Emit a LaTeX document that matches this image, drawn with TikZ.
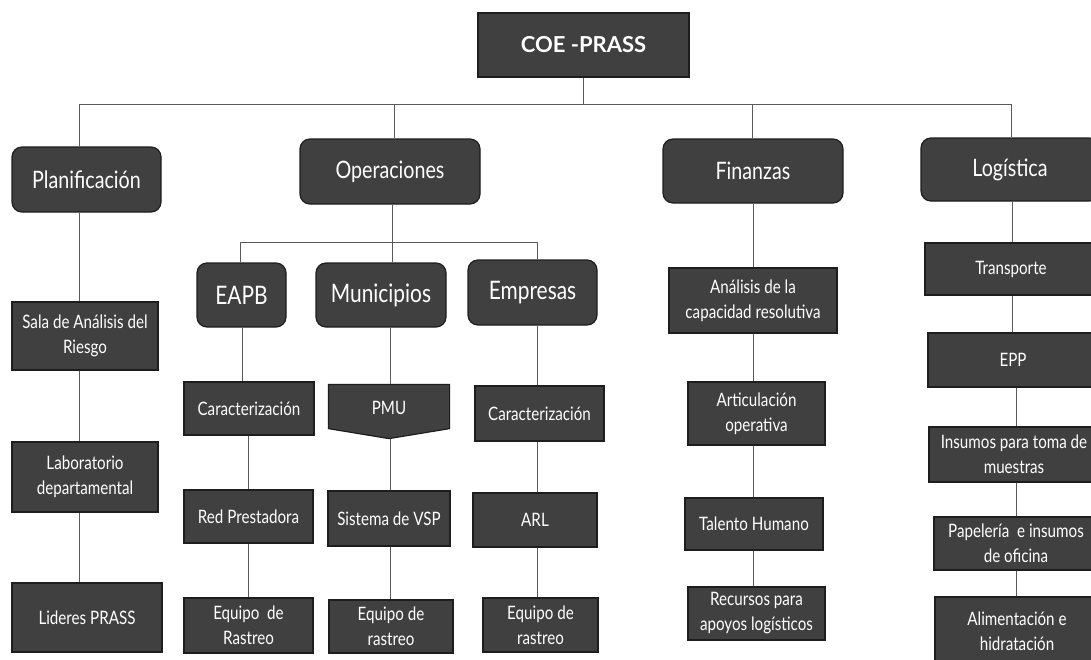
\documentclass[tikz,border=0pt]{standalone}
\usepackage{fontspec}
\setmainfont{Lato}[FakeStretch=0.82]
\newfontfamily\coefont{Lato}
\usetikzlibrary{calc}
\definecolor{boxfill}{RGB}{64,64,64}
\definecolor{boxline}{RGB}{30,30,30}
\definecolor{conncol}{RGB}{90,90,90}
\begin{document}
\begin{tikzpicture}[x=1pt,y=-1pt,
  box/.style={draw=boxline, fill=boxfill, line width=1.2pt, text=white, inner sep=2pt, align=center},
  grp/.style={box, rounded corners=10pt, font=\fontsize{24}{28}\selectfont},
  subgrp/.style={box, rounded corners=10pt, font=\fontsize{25.5}{29}\selectfont},
  leaf/.style={box, font=\fontsize{18.5}{25}\selectfont},
  link/.style={draw=conncol, line width=1pt}]
\useasboundingbox (0,0) rectangle (1091,659);
\clip (0,0) rectangle (1091,659);
\fill[white] (0,0) rectangle (1091,659);

% top
\node[box, minimum width=211pt, minimum height=64pt, font=\coefont\bfseries\fontsize{22}{26}\selectfont] (coe) at (583.5,45) {COE -PRASS};

% groups
\node[grp, minimum width=149pt, minimum height=65pt] (plan) at (86.5,179.5) {Planificación};
\node[grp, minimum width=180pt, minimum height=65pt] (oper) at (390,171.5) {Operaciones};
\node[grp, minimum width=180pt, minimum height=64pt] (fin) at (753,171) {Finanzas};
\node[grp, minimum width=178pt, minimum height=63pt] (log) at (1010,169.5) {Logística};

% planificacion column
\node[leaf, minimum width=146pt, minimum height=68pt] (sala) at (85,336) {Sala de Análisis del\\Riesgo};
\node[leaf, minimum width=146pt, minimum height=70pt] (lab) at (85,477) {Laboratorio\\departamental};
\node[leaf, minimum width=150pt, minimum height=69pt] (lid) at (87,617.5) {Lideres PRASS};

% operaciones sub groups
\node[subgrp, minimum width=89pt, minimum height=64pt] (eapb) at (241.5,295) {EAPB};
\node[subgrp, minimum width=130pt, minimum height=64pt] (mun) at (381,295) {Municipios};
\node[subgrp, minimum width=129pt, minimum height=65pt] (emp) at (532.5,292.5) {Empresas};

% EAPB column
\node[leaf, minimum width=130pt, minimum height=53pt] (car1) at (249,408.5) {Caracterización};
\node[leaf, minimum width=129pt, minimum height=53pt] (red) at (248.5,516.5) {Red Prestadora};
\node[leaf, minimum width=129pt, minimum height=55pt] (eq1) at (248.5,625.5) {Equipo \ de\\Rastreo};

% Municipios column
\node[leaf, draw=none, fill=none, minimum width=120pt, minimum height=43pt] (pmu) at (389,406.5) {};
\coordinate (pmutip) at ($(pmu.south)+(0,10)$);
\filldraw[draw=boxline, fill=boxfill, line width=1.2pt] (pmu.north west) -- (pmu.north east) -- (pmu.south east) -- (pmutip) -- (pmu.south west) -- cycle;
\node[text=white, font=\fontsize{18.5}{25}\selectfont] (pmutext) at ($(pmu.center)+(0,1)$) {PMU};
\node[leaf, minimum width=122pt, minimum height=55pt] (vsp) at (389,518.5) {Sistema de VSP};
\node[leaf, minimum width=124pt, minimum height=53pt] (eq2) at (391,626.5) {Equipo de\\rastreo};

% Empresas column
\node[leaf, minimum width=129pt, minimum height=55pt] (car2) at (539.5,413.5) {Caracterización};
\node[leaf, minimum width=124pt, minimum height=54pt] (arl) at (535,520) {ARL};
\node[leaf, minimum width=115pt, minimum height=54pt] (eq3) at (540.5,625) {Equipo de\\rastreo};

% Finanzas column
\node[leaf, minimum width=168pt, minimum height=65pt] (ana) at (753,300.5) {Análisis de la\\capacidad resolutiva};
\node[leaf, minimum width=137pt, minimum height=63pt] (art) at (756.5,413.5) {Articulación\\operativa};
\node[leaf, minimum width=138pt, minimum height=52pt] (tal) at (754,524) {Talento Humano};
\node[leaf, minimum width=137pt, minimum height=53pt] (rec) at (756.5,613.5) {Recursos para\\apoyos logísticos};

% Logistica column
\node[leaf, minimum width=172pt, minimum height=52pt] (tra) at (1011,269) {Transporte};
\node[leaf, minimum width=170pt, minimum height=54pt] (epp) at (1013,360) {EPP};
\node[leaf, minimum width=170pt, minimum height=55pt] (ins) at (1014,454.5) {Insumos para toma de\\muestras};
\node[leaf, minimum width=164pt, minimum height=53pt] (pap) at (1016,543.5) {Papelería \ e insumos\\de oficina};
\node[leaf, minimum width=164pt, minimum height=68pt] (ali) at (1017,631) {Alimentación e\\hidratación};

% connectors: main bus
\coordinate (busL) at (79,104);
\coordinate (busR) at (1011,104);
\coordinate (dropO) at (394,104);
\coordinate (dropF) at (752,104);
\draw[link] (coe.south) -- (coe.south |- busL);
\draw[link] (busL) -- (busR);
\draw[link] (busL) -- (busL |- plan.north);
\draw[link] (dropO) -- (dropO |- oper.north);
\draw[link] (dropF) -- (dropF |- fin.north);
\draw[link] (busR) -- (busR |- log.north);

% planificacion column
\coordinate (colP) at (79,0);
\draw[link] (colP |- plan.south) -- (colP |- sala.north);
\draw[link] (colP |- sala.south) -- (colP |- lab.north);
\draw[link] (colP |- lab.south) -- (colP |- lid.north);

% operaciones sub bus
\coordinate (sbL) at (240,242);
\coordinate (sbR) at (537,242);
\coordinate (colO) at (392,0);
\draw[link] (colO |- oper.south) -- (colO |- mun.north);
\draw[link] (sbL) -- (sbR);
\draw[link] (sbL) -- (sbL |- eapb.north);
\draw[link] (sbR) -- (sbR |- emp.north);

% EAPB column
\coordinate (colE1) at (242,0);
\coordinate (colE2) at (248,0);
\draw[link] (colE1 |- eapb.south) -- (colE1 |- car1.north);
\draw[link] (colE2 |- car1.south) -- (colE2 |- red.north);
\draw[link] (colE2 |- red.south) -- (colE2 |- eq1.north);

% Municipios column
\coordinate (colM) at (390,0);
\draw[link] (colM |- mun.south) -- (colM |- pmu.north);
\draw[link] (colM |- pmutip) -- (colM |- vsp.north);
\draw[link] (colM |- vsp.south) -- (colM |- eq2.north);

% Empresas column
\coordinate (colEm) at (537,0);
\draw[link] (colEm |- emp.south) -- (colEm |- car2.north);
\draw[link] (colEm |- car2.south) -- (colEm |- arl.north);
\draw[link] (colEm |- arl.south) -- (colEm |- eq3.north);

% Finanzas column
\coordinate (colF) at (753,0);
\draw[link] (colF |- fin.south) -- (colF |- ana.north);
\draw[link] (colF |- ana.south) -- (colF |- art.north);
\draw[link] (colF |- art.south) -- (colF |- tal.north);
\draw[link] (colF |- tal.south) -- (colF |- rec.north);

% Logistica column
\coordinate (colL1) at (1012,0);
\coordinate (colL2) at (1016,0);
\draw[link] (colL1 |- log.south) -- (colL1 |- tra.north);
\draw[link] (colL1 |- tra.south) -- (colL1 |- epp.north);
\draw[link] (colL2 |- epp.south) -- (colL2 |- ins.north);
\draw[link] (colL2 |- ins.south) -- (colL2 |- pap.north);
\draw[link] (colL2 |- pap.south) -- (colL2 |- ali.north);
\end{tikzpicture}
\end{document}
